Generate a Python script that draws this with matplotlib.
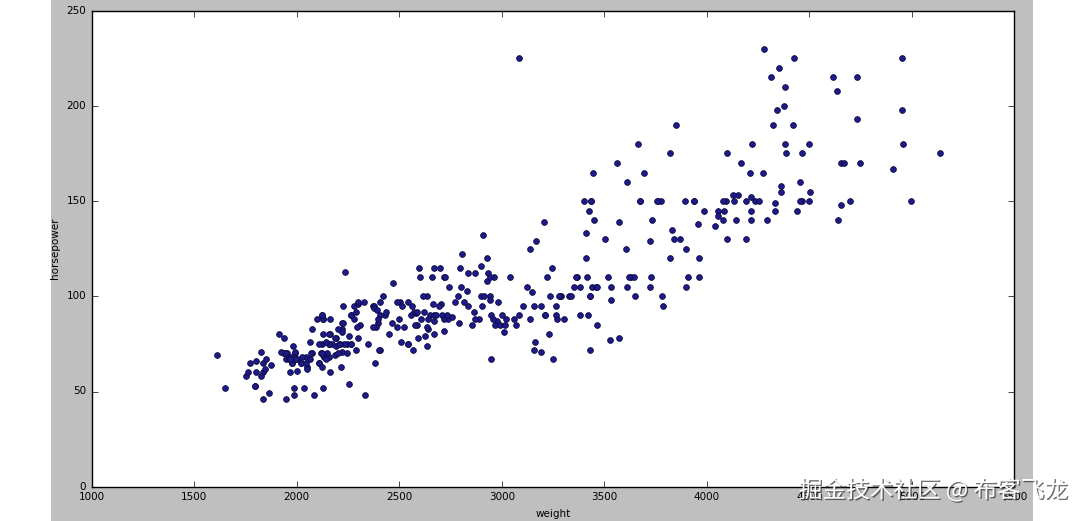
import matplotlib
matplotlib.use('Agg')
import matplotlib.pyplot as plt
import matplotlib.patheffects as pe
from matplotlib.patches import Rectangle

plt.style.use('classic')

# (horsepower, weight) pairs, in dataset order
horsepower = [
    130, 165, 150, 150, 140, 198, 220, 215, 225, 190, 170, 160, 150, 225, 95, 95, 97, 85, 88, 46, 87, 90, 95, 113, 90, 215, 200, 210, 193,
    88, 90, 95, 100, 105, 100, 88, 100, 165, 175, 153, 150, 180, 170, 175, 110, 72, 100, 88, 86, 90, 70, 76, 65, 69,
    60, 70, 95, 80, 54, 90, 86, 165, 175, 150, 153, 150, 208, 155, 160, 190, 97, 150, 130, 140, 150, 112, 76, 87, 69, 86, 92, 97, 80, 88,
    175, 150, 145, 137, 150, 198, 150, 158, 150, 215, 225, 175, 105, 100, 100, 88, 95, 46, 150, 167, 170, 180, 100, 88, 72, 94, 90, 85, 107, 90, 145, 230, 49, 75, 91, 112, 150, 110, 122, 180,
    95, 100, 100, 67, 80, 65, 75, 100, 110, 105, 140, 150, 150, 140, 150, 83, 67, 78, 52, 61, 75, 75, 75, 97, 93, 67,
    95, 105, 72, 72, 170, 145, 150, 148, 110, 105, 110, 95, 110, 110, 129, 75, 83, 100, 78, 96, 71, 97, 97, 70, 90, 95, 88, 98, 115, 53, 86, 81, 92, 79, 83,
    140, 150, 120, 152, 100, 105, 81, 90, 52, 60, 70, 53, 100, 78, 110, 95, 71, 70, 75, 72, 102, 150, 88, 108, 120, 180, 145, 130, 150,
    68, 80, 58, 96, 70, 145, 110, 145, 130, 110, 105, 100, 98, 180, 170, 190, 149, 78, 88, 75, 89, 63, 83, 67, 78, 97, 110, 110,
    48, 66, 52, 70, 60, 110, 140, 139, 105, 95, 85, 88, 100, 90, 105, 85, 110, 120, 145, 165, 139, 140, 68, 95, 97, 75, 95, 105, 85, 97, 103, 125, 115, 133, 71, 68,
    115, 85, 88, 90, 110, 130, 129, 138, 135, 155, 142, 125, 150, 71, 65, 80, 80, 77, 125, 71, 90, 70, 70,
    65, 69, 90, 115, 115, 90, 76, 60, 70, 65, 90, 88, 90, 90, 78, 90, 75, 92, 75, 65, 105, 65, 48, 48, 67, 67, 67, 67, 62, 132, 100, 88,
    72, 84, 84, 92, 110, 84, 58, 64, 60, 67, 65, 62, 68, 63, 65, 65, 74, 75, 75, 100, 74, 80, 76, 116, 120, 110,
    105, 88, 85, 88, 88, 88, 85, 84, 90, 92, 74, 68, 68, 63, 70, 88, 75, 70, 67, 67, 67, 110, 85, 92, 112, 96, 84, 90, 86, 52, 84, 79, 82,
]
weight = [
    3504, 3693, 3436, 3433, 3449, 4341, 4354, 4312, 4425, 3850, 3563, 3609, 3761, 3086, 2372, 2833, 2774, 2587, 2130, 1835, 2672, 2430, 2375, 2234, 2648, 4615, 4376, 4382, 4732,
    2130, 2264, 2228, 2634, 3439, 3329, 3302, 3288, 4209, 4464, 4154, 4096, 4955, 4746, 5140, 2962, 2408, 3282, 3139, 2220, 2123, 2074, 2065, 1773, 1613,
    1834, 1955, 2278, 2126, 2254, 2408, 2226, 4274, 4385, 4135, 4129, 3672, 4633, 4502, 4456, 4422, 2330, 3892, 4098, 4294, 4077, 2933, 2511, 2979, 2189, 2395, 2288, 2506, 2164, 2100,
    4100, 3672, 3988, 4042, 3777, 4952, 4464, 4363, 4237, 4735, 4951, 3821, 3121, 3278, 2945, 3021, 2904, 1950, 4997, 4906, 4654, 4499, 2789, 2279, 2401, 2379, 2124, 2310, 2472, 2265, 4082, 4278, 1867, 2158, 2582, 2868, 3399, 2660, 2807, 3664,
    3102, 2901, 3336, 1950, 2451, 1836, 2542, 3781, 3632, 3613, 4141, 4699, 4457, 4638, 4257, 2219, 1963, 2300, 1649, 2003, 2125, 2108, 2246, 2489, 2391, 2000,
    3264, 3459, 3432, 3158, 4668, 4440, 4498, 4657, 3907, 3897, 3730, 3785, 3039, 3221, 3169, 2171, 2639, 2914, 2592, 2702, 2223, 2545, 2984, 1937, 3211, 2694, 2957, 2945, 2671, 1795, 2464, 2220, 2572, 2255, 2202,
    4215, 4190, 3962, 4215, 3233, 3353, 3012, 3085, 2035, 2164, 1937, 1795, 3651, 3574, 3645, 3193, 1825, 1990, 2155, 2565, 3150, 3940, 3270, 2930, 3820, 4380, 4055, 3870, 3755,
    2045, 2155, 1825, 2300, 1945, 4335, 3960, 4215, 4190, 3520, 3465, 3430, 3535, 4220, 4165, 4325, 4335, 1940, 2740, 2265, 2755, 2051, 2075, 1985, 2190, 2815, 2600, 2720,
    1985, 1800, 1985, 2070, 1800, 3365, 3735, 3570, 3535, 3155, 2965, 2720, 3430, 3210, 3380, 3070, 3620, 3410, 3425, 3445, 3205, 4080, 2155, 2560, 2300, 2230, 2515, 2745, 2855, 2405, 2830, 3140, 2795, 3410, 1990, 2135,
    3245, 2990, 2890, 3265, 3360, 3840, 3725, 3955, 3830, 4360, 4054, 3605, 3940, 1925, 1975, 1915, 2670, 3530, 3900, 3190, 3420, 2200, 2150,
    2020, 2130, 2670, 2595, 2700, 2556, 2144, 1968, 2120, 2019, 2678, 2870, 3003, 3381, 2188, 2711, 2542, 2434, 2265, 2110, 2800, 2110, 2085, 2335, 2950, 3250, 1850, 2145, 1845, 2910, 2420, 2500,
    2290, 2490, 2635, 2620, 2725, 2385, 1755, 1875, 1760, 2065, 1975, 2050, 1985, 2215, 2045, 2380, 2190, 2210, 2350, 2615, 2635, 3230, 3160, 2900, 2930, 3415,
    3725, 3060, 3465, 2605, 2640, 2395, 2575, 2525, 2735, 2865, 1980, 2025, 1970, 2125, 2125, 2160, 2205, 2245, 1965, 1965, 1995, 2945, 3015, 2585, 2835, 2665, 2370, 2950, 2790, 2130, 2295, 2625, 2720,
]

x_ticks = [1000, 1500, 2000, 2500, 3000, 3500, 4000, 4500, 5000, 5500]
y_ticks = [0, 50, 100, 150, 200, 250]
watermark = '掘金技术社区 @ 布客飞龙'

W, H = 1084, 521
fig = plt.figure(figsize=(W / 100, H / 100), dpi=100, facecolor='white')
fig.patches.append(Rectangle((51 / W, 0), (1033 - 51) / W, 1, transform=fig.transFigure,
                             facecolor='#bfbfbf', edgecolor='none', zorder=-1))
ax = fig.add_axes([91.7 / W, (H - 486.7) / H, (1014.3 - 91.7) / W, (486.7 - 10.7) / H])
ax.scatter(weight, horsepower, s=17, c='#1e1a8a', edgecolors='#0c0a40', linewidths=0.6)
ax.set_xlim(1000, 5500)
ax.set_ylim(0, 250)
ax.set_xticks(x_ticks)
ax.set_yticks(y_ticks)
ax.tick_params(labelsize=7.5)
ax.set_xlabel('weight', fontsize=7.5)
ax.set_ylabel('horsepower', fontsize=7.5)
ax.yaxis.set_label_coords((60 - 91.7) / (1014.3 - 91.7), 0.5)

fig.text(1068 / W, (H - 490) / H, watermark, ha='right', va='center', fontsize=17,
         color='white', family=['Noto Sans CJK SC', 'DejaVu Sans'],
         path_effects=[pe.withSimplePatchShadow(offset=(1, -1), shadow_rgbFace='#333333', alpha=0.7)])

fig.savefig('out.png', dpi=100, facecolor='white')
